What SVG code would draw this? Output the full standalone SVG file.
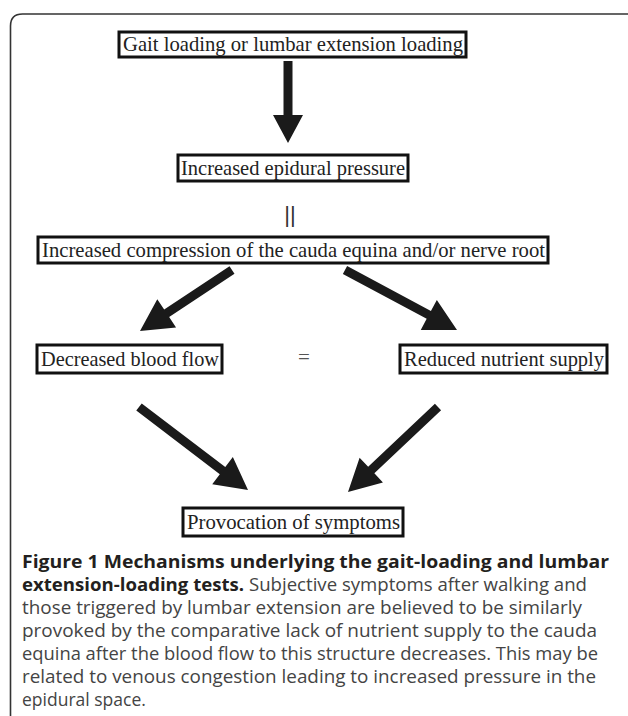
<svg xmlns="http://www.w3.org/2000/svg" width="628" height="716" viewBox="0 0 628 716">
<style>
.box{fill:#fff;stroke:#111;stroke-width:3}
.lbl{font-family:"Liberation Serif","Times New Roman",serif;font-size:21px;fill:#222}
.arr{fill:#1a1a1a}
.cap{font-family:"Open Sans","Liberation Sans",sans-serif;font-size:17.5px;fill:#444}
.b{font-weight:bold;fill:#231f20}
</style>
<rect width="628" height="716" fill="#fff"/>
<path d="M10.5,716 V26 Q10.5,14 22.5,14 H640" fill="none" stroke="#333" stroke-width="1.6"/>
<g id="n1"><rect class="box" x="119" y="32" width="347" height="25"/><text class="lbl" x="123" y="51" textLength="340" lengthAdjust="spacingAndGlyphs">Gait loading or lumbar extension loading</text></g>
<g id="n2"><rect class="box" x="178" y="155" width="230" height="26"/><text class="lbl" x="181" y="175" textLength="224" lengthAdjust="spacingAndGlyphs">Increased epidural pressure</text></g>
<g id="eq1"><text x="290" y="222" text-anchor="middle" style="font-family:'Liberation Sans',sans-serif;font-size:22px;fill:#333">||</text></g>
<g id="n3"><rect class="box" x="38" y="237" width="510" height="26"/><text class="lbl" x="42" y="257" textLength="503" lengthAdjust="spacingAndGlyphs">Increased compression of the cauda equina and/or nerve root</text></g>
<g id="n4"><rect class="box" x="37" y="345" width="185" height="28"/><text class="lbl" x="41" y="366" textLength="178" lengthAdjust="spacingAndGlyphs">Decreased blood flow</text></g>
<g id="eq2"><text class="lbl" x="304" y="364" text-anchor="middle" style="fill:#555">=</text></g>
<g id="n5"><rect class="box" x="400" y="345" width="207" height="28"/><text class="lbl" x="404" y="366" textLength="200" lengthAdjust="spacingAndGlyphs">Reduced nutrient supply</text></g>
<g id="n6"><rect class="box" x="183" y="508" width="220" height="28"/><text class="lbl" x="187" y="529" textLength="213" lengthAdjust="spacingAndGlyphs">Provocation of symptoms</text></g>
<g id="connectors">
<polygon class="arr" points="283.5,61 292.5,61 292.5,115 303,115 288,143 273,115 283.5,115"/>
<polygon class="arr" points="229.51,266.25 164.18,309.57 157.28,299.15 140,331 176.06,327.49 169.16,317.07 234.49,273.75"/>
<polygon class="arr" points="342.88,273.97 426.68,318.87 420.77,329.88 457,330 436.83,299.92 430.92,310.93 347.12,266.03"/>
<polygon class="arr" points="136.27,410.58 219.81,474.19 212.24,484.14 248,490 232.84,457.08 225.27,467.03 141.73,403.42"/>
<polygon class="arr" points="434.91,403.73 368.17,466.76 359.59,457.67 348,492 382.93,482.39 374.35,473.30 441.09,410.27"/>
</g>
<g id="caption">
<text class="cap b" x="22" y="568" textLength="587" lengthAdjust="spacingAndGlyphs">Figure 1 Mechanisms underlying the gait-loading and lumbar</text>
<text class="cap" x="22" y="591" textLength="565" lengthAdjust="spacingAndGlyphs"><tspan class="b">extension-loading tests.</tspan> Subjective symptoms after walking and</text>
<text class="cap" x="22" y="614" textLength="560" lengthAdjust="spacingAndGlyphs">those triggered by lumbar extension are believed to be similarly</text>
<text class="cap" x="22" y="637" textLength="575" lengthAdjust="spacingAndGlyphs">provoked by the comparative lack of nutrient supply to the cauda</text>
<text class="cap" x="22" y="660" textLength="576" lengthAdjust="spacingAndGlyphs">equina after the blood flow to this structure decreases. This may be</text>
<text class="cap" x="22" y="683" textLength="574" lengthAdjust="spacingAndGlyphs">related to venous congestion leading to increased pressure in the</text>
<text class="cap" x="22" y="706">epidural space.</text>
</g>
</svg>
